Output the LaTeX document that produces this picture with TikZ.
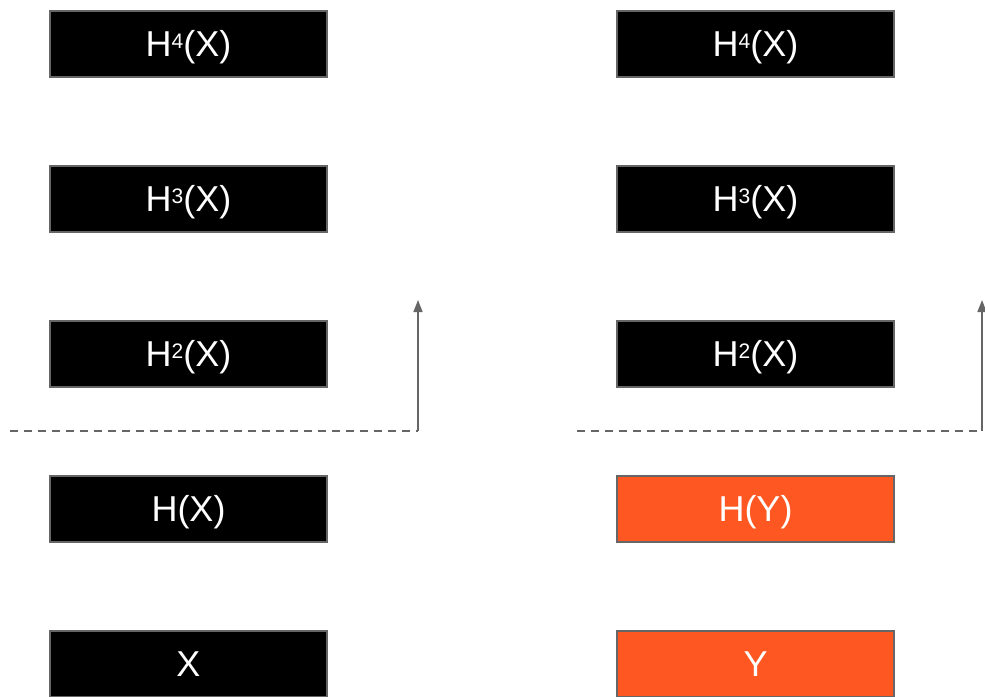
\documentclass[tikz,border=0pt]{standalone}
\usepackage{fontspec}
\setmainfont{Liberation Sans}
\usetikzlibrary{arrows.meta,positioning}
\definecolor{lineGray}{HTML}{666666}
\definecolor{deepOrange}{HTML}{FF5722}
\newcommand{\pw}[1]{\raisebox{8pt}{\fontsize{21}{21}\selectfont #1}}

\begin{document}
\begin{tikzpicture}[x=1pt, y=-1pt, node distance=88.5pt and 289.5pt, every node/.style={font=\fontsize{36}{40}\selectfont},
  layer/.style={draw=lineGray, line width=1.8pt, fill=black, text=white, minimum width=277.5pt, minimum height=66.5pt, inner sep=0pt, outer sep=0pt, text height=25.8pt, text depth=0pt},
  hidden/.style={layer, fill=deepOrange},
  cut/.style={dash pattern=on 8pt off 6pt, lineGray, line width=1.5pt},
  arr/.style={-{Triangle[length=12pt,width=9pt]}, lineGray, line width=1.5pt}]
\useasboundingbox (0,0) rectangle (985,696);
% left stack
\node[layer] (x4) at (188.5,44) {H\pw{4}(X)};
\node[layer, below=of x4] (x3) {H\pw{3}(X)};
\node[layer, below=of x3] (x2) {H\pw{2}(X)};
\node[layer, below=of x2] (x1) {H(X)};
\node[layer, below=of x1] (x0) {X};
% right stack
\node[layer, right=of x4] (y4) {H\pw{4}(X)};
\node[layer, below=of y4] (y3) {H\pw{3}(X)};
\node[layer, below=of y3] (y2) {H\pw{2}(X)};
\node[hidden, below=of y2] (y1) {H(Y)};
\node[hidden, below=of y1] (y0) {Y};
% cut lines and arrows
\coordinate (cutL) at (10,431);
\coordinate (cutLend) at (418,431);
\coordinate (upL) at (418,300);
\coordinate (cutR) at (577,431);
\coordinate (cutRend) at (982,431);
\coordinate (upR) at (982,300);
\draw[cut] (cutL) -- (cutLend);
\draw[arr] (cutLend) -- (upL);
\draw[cut] (cutR) -- (cutRend);
\draw[arr] (cutRend) -- (upR);
\end{tikzpicture}
\end{document}
